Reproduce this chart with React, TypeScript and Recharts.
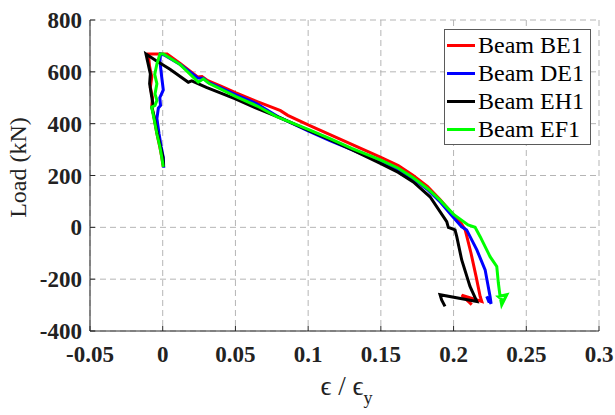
import React from 'react';
import { LineChart, Line, XAxis, YAxis, CartesianGrid, Legend, Label } from 'recharts';

const FONT = '"Liberation Serif", "Times New Roman", serif';

const xTicks = [-0.05, 0, 0.05, 0.1, 0.15, 0.2, 0.25, 0.3];
const yTicks = [-400, -200, 0, 200, 400, 600, 800];

// strain ratio and load (kN), in the order each test was recorded
const be1Strain = [0.0004, -0.0007, -0.002, -0.004, -0.0065, -0.0075, -0.007, -0.0085, -0.0075, -0.009, -0.0099, 0.003, 0.012, 0.024, 0.027, 0.031, 0.04, 0.05, 0.065, 0.078, 0.081, 0.086, 0.1, 0.115, 0.13, 0.15, 0.162, 0.172, 0.182, 0.191, 0.198, 0.2045, 0.208, 0.212, 0.2155, 0.2183, 0.2194, 0.2056, 0.2125];
const be1Load = [233, 272, 310, 361, 440, 470, 500, 540, 580, 620, 669, 669, 632, 580, 582, 566, 545, 520, 485, 457, 450, 432, 395, 358, 320, 270, 238, 201, 158, 105, 60, 22, -10, -100, -190, -267, -286, -262, -298];

const de1Strain = [0.0007, 0.0004, -0.001, -0.0025, -0.004, -0.003, -0.0015, -0.002, 0.0004, -0.0007, -0.0019, -0.0015, 0.001, 0.012, 0.024, 0.028, 0.031, 0.04, 0.05, 0.065, 0.08, 0.1, 0.115, 0.13, 0.15, 0.162, 0.172, 0.182, 0.191, 0.198, 0.2056, 0.209, 0.216, 0.2217, 0.2251, 0.2258, 0.2228, 0.2245];
const de1Load = [230, 270, 310, 360, 420, 460, 470, 500, 530, 580, 640, 669, 665, 628, 576, 575, 560, 538, 512, 476, 425, 372, 335, 300, 252, 222, 188, 146, 97, 50, 2, -10, -87, -164, -267, -295, -267, -290];

const eh1Strain = [0.0006, 0.0002, -0.0015, -0.004, -0.006, -0.0076, -0.0065, -0.0075, -0.009, -0.0085, -0.0105, -0.0115, -0.005, 0.005, 0.0176, 0.02, 0.03, 0.04, 0.05, 0.0635, 0.08, 0.1, 0.115, 0.13, 0.15, 0.162, 0.1723, 0.1838, 0.1953, 0.1964, 0.201, 0.2022, 0.2056, 0.2113, 0.216, 0.1907, 0.1918, 0.1941];
const eh1Load = [233, 270, 310, 370, 430, 464, 470, 502, 554, 592, 643, 669, 645, 610, 560, 565, 540, 518, 496, 462, 424, 375, 338, 300, 246, 212, 175, 118, 22, 0, -10, -36, -126, -228, -286, -260, -280, -305];

const ef1Strain = [0.0004, -0.0007, -0.0019, -0.004, -0.006, -0.0076, -0.0053, -0.004, -0.0053, -0.004, -0.0055, -0.004, -0.0019, 0.0005, 0.012, 0.0245, 0.028, 0.032, 0.04, 0.05, 0.065, 0.0783, 0.1, 0.115, 0.13, 0.15, 0.162, 0.172, 0.182, 0.1907, 0.2, 0.21, 0.2148, 0.2183, 0.2251, 0.2297, 0.2308, 0.232, 0.2331, 0.2366, 0.2308, 0.2345];
const ef1Load = [233, 272, 310, 361, 420, 464, 470, 490, 515, 554, 590, 630, 669, 669, 628, 560, 573, 555, 533, 505, 468, 427, 378, 342, 305, 259, 228, 192, 150, 105, 50, 9, 0, -36, -113, -151, -215, -267, -299, -260, -267, -285];

const toPoints = (xs: number[], ys: number[]) => xs.map((x, i) => ({ x, load: ys[i] }));

const series = [
  { name: 'Beam BE1', color: '#ff0000', data: toPoints(be1Strain, be1Load) },
  { name: 'Beam DE1', color: '#0000ff', data: toPoints(de1Strain, de1Load) },
  { name: 'Beam EH1', color: '#000000', data: toPoints(eh1Strain, eh1Load) },
  { name: 'Beam EF1', color: '#00ff00', data: toPoints(ef1Strain, ef1Load) },
];

const YTitle = (props: any) => {
  const vb = props.viewBox;
  const cx = vb.x + 26;
  const cy = vb.y + vb.height / 2 - 8;
  return (
    <text x={cx} y={cy} transform={`rotate(-90 ${cx} ${cy})`} textAnchor="middle"
      fontFamily={FONT} fontSize={24} fill="#222">
      Load (kN)
    </text>
  );
};

const XTitle = (props: any) => {
  const vb = props.viewBox;
  return (
    <text x={vb.x + vb.width / 2 + 2} y={vb.y + 64} textAnchor="middle" fontFamily={FONT} fontSize={27} fill="#222">
      <tspan>ϵ / ϵ</tspan>
      <tspan fontSize={18} dy={9}>y</tspan>
    </text>
  );
};

const LegendBox = () => (
  <div style={{ boxSizing: 'border-box', width: 147, border: '1px solid #5a5a5a', background: '#fff', padding: '1px 0', fontFamily: FONT, fontSize: 24, color: '#000' }}>
    {series.map((s) => (
      <div key={s.name} style={{ display: 'flex', alignItems: 'center', height: 28, whiteSpace: 'nowrap' }}>
        <span style={{ display: 'inline-block', width: 28, height: 3, background: s.color, marginLeft: 2, marginRight: 3 }} />
        <span style={{ lineHeight: '28px' }}>{s.name}</span>
      </div>
    ))}
  </div>
);

const App = () => {
  const tickStyle = { fontFamily: FONT, fontSize: 23, fontWeight: 700, fill: '#222' };
  return (
    <div style={{ width: 615, height: 415 }}>
      <style>{'body{margin:0}'}</style>
      <LineChart width={615} height={415} margin={{ top: 20, right: 16, left: 0, bottom: 0 }}>
        <CartesianGrid stroke="#b5b5b5" strokeDasharray="6 4" />
        <XAxis
          dataKey="x"
          type="number"
          domain={[-0.05, 0.3]}
          ticks={xTicks}
          height={84}
          stroke="#262626"
          tickSize={-5}
          tickMargin={20}
          tick={tickStyle}
          interval={0}
        >
          <Label content={XTitle} />
        </XAxis>
        <YAxis
          type="number"
          domain={[-400, 800]}
          ticks={yTicks}
          width={90}
          stroke="#262626"
          tickSize={-5}
          tickMargin={13}
          tick={tickStyle}
          interval={0}
        >
          <Label content={YTitle} />
        </YAxis>
        <Legend
          layout="vertical"
          align="center"
          verticalAlign="middle"
          content={LegendBox}
          wrapperStyle={{ top: 29, left: 444, width: 147, height: 'auto' }}
        />
        {series.map((s) => (
          <Line
            key={s.name}
            name={s.name}
            data={s.data}
            dataKey="load"
            type="linear"
            stroke={s.color}
            strokeWidth={3}
            dot={false}
            isAnimationActive={false}
          />
        ))}
      </LineChart>
    </div>
  );
};

export default App;
